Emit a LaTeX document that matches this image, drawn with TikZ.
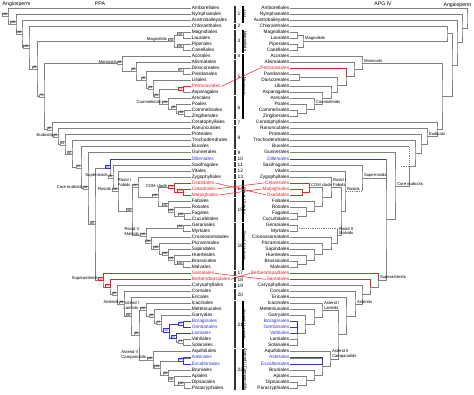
\documentclass[tikz,border=0pt]{standalone}
\usepackage{fontspec}
\setmainfont{Liberation Sans}
\usetikzlibrary{calc}
\pgfdeclarelayer{front}
\pgfsetlayers{main,front}

\definecolor{hired}{RGB}{232,32,40}
\definecolor{hiblue}{RGB}{52,52,214}
\colorlet{tk}{black}
\colorlet{tr}{hired}
\colorlet{tb}{hiblue}

\newcommand\tipfont{\fontsize{4.8}{4.8}\selectfont}
\newcommand\cladefont{\fontsize{4.2}{4.8}\selectfont}
\newcommand\bootfont{\fontsize{3.3}{3.3}\selectfont}

% node position: x given, y halfway between the two children
\newcommand\jpos[4]{\path let \p1=(#3),\p2=(#4) in (#2,{(\y1+\y2)/2}) coordinate (#1);}
% clade: [box style]{name}{x}{child 1}{child 2}{support}
\newcommand\clade[6][]{%
  \jpos{#2}{#3}{#4}{#5}%
  \draw[branch] (#4) -| (#2) |- (#5);%
  \ifx\relax#6\relax\else
    \begin{pgfonlayer}{front}\node[boot,#1] (#2b) at (#2) {#6};\end{pgfonlayer}%
  \fi}

\tikzset{
  branch/.style={draw=black!50, line width=0.45pt},
  dashbr/.style={draw=black!50, line width=0.45pt, dash pattern=on 1.2pt off 1pt},
  redb/.style={draw=hired, line width=0.5pt},
  blueb/.style={draw=hiblue, line width=0.5pt},
  crossr/.style={draw=hired, line width=0.5pt},
  boot/.style={draw=black!45, line width=0.25pt, fill=white, font=\bootfont,
    inner sep=0.35pt, anchor=south east, yshift=-0.4pt},
  redbox/.style={draw=hired, text=hired},
  bluebox/.style={draw=hiblue, text=hiblue},
  tipl/.style={anchor=west, inner sep=0.6pt, font=\tipfont, text height=3.4pt, text depth=0.9pt},
  tipr/.style={anchor=east, inner sep=0.6pt, font=\tipfont, text height=3.4pt, text depth=0.9pt},
  cll/.style={anchor=south east, align=left, inner sep=0.4pt, font=\cladefont},
  clr/.style={anchor=south west, align=left, inner sep=0.4pt, xshift=1.4pt, font=\cladefont},
  grpbar/.style={draw=black!80, line width=2pt},
  cladebar/.style={draw=black, line width=1.3pt},
  numlab/.style={anchor=west, inner sep=0.5pt, xshift=1.2pt, font=\tipfont},
  vlab/.style={anchor=south, rotate=-90, inner sep=0.5pt, yshift=-1.2pt, font=\fontsize{4.2}{4.2}\selectfont},
  ttl/.style={font=\fontsize{5.2}{5.2}\selectfont, inner sep=0.5pt}
}

\begin{document}
\begin{tikzpicture}[x=1pt, y=1pt]
\useasboundingbox (0,0) rectangle (474,-394);

% titles
\node[ttl] (ppa) at (100,-3.5) {PPA};
\node[ttl] (apg) at (383,-3.5) {APG IV};
\node[ttl, anchor=west] (angl) at (2,-4) {Angiosperm};
\node[ttl, anchor=east] (angr) at (472,-5) {Angiosperm};

% tips, left tree (PPA)
\foreach \t/\c [count=\i] in {Amborellales/tk, Nymphaeales/tk, Austrobaileyales/tk,
  Chloranthales/tk, Magnoliales/tk, Laurales/tk, Piperales/tk, Canellales/tk,
  Acorales/tk, Alismatales/tk, Dioscoreales/tk, Pandanales/tk, Liliales/tk,
  Petrosaviales/tr, Asparagales/tk, Arecales/tk, Poales/tk, Commelinales/tk,
  Zingiberales/tk, Ceratophyllales/tk, Ranunculales/tk, Proteales/tk,
  Trochodendrales/tk, Buxales/tk, Gunnerales/tk, Dilleniales/tb, Saxifragales/tk,
  Vitales/tk, Zygophyllales/tk, Oxalidales/tr, Celastrales/tr, Malpighiales/tr,
  Fabales/tk, Rosales/tk, Fagales/tk, Cucurbitales/tk, Geraniales/tk, Myrtales/tk,
  Crossosomatales/tk, Picramniales/tk, Sapindales/tk, Huerteales/tk,
  Brassicales/tk, Malvales/tk, Santalales/tr, Berberidopsidales/tr,
  Caryophyllales/tk, Cornales/tk, Ericales/tk, Icacinales/tk, Metteniusales/tk,
  Garryales/tk, Boraginales/tb, Gentianales/tb, Lamiales/tb, Vahliales/tk,
  Solanales/tk, Aquifoliales/tk, Asterales/tb, Escalloniales/tb, Bruniales/tk,
  Apiales/tk, Dipsacales/tk, Paracryphiales/tk}
  \node[tipl, text=\c] (l\i) at (191,{-8-6.03*(\i-1)}) {\t};

% tips, right tree (APG IV)
\foreach \t/\c [count=\i] in {Amborellales/tk, Nymphaeales/tk, Austrobaileyales/tk,
  Chloranthales/tk, Magnoliales/tk, Laurales/tk, Piperales/tk, Canellales/tk,
  Acorales/tk, Alismatales/tk, Petrosaviales/tr, Pandanales/tk, Dioscoreales/tk,
  Liliales/tk, Asparagales/tk, Arecales/tk, Poales/tk, Commelinales/tk,
  Zingiberales/tk, Ceratophyllales/tk, Ranunculales/tk, Proteales/tk,
  Trochodendrales/tk, Buxales/tk, Gunnerales/tk, Dilleniales/tb, Saxifragales/tk,
  Vitales/tk, Zygophyllales/tk, Celastrales/tr, Malpighiales/tr, Oxalidales/tr,
  Fabales/tk, Rosales/tk, Fagales/tk, Cucurbitales/tk, Geraniales/tk, Myrtales/tk,
  Crossosomatales/tk, Picramniales/tk, Sapindales/tk, Huerteales/tk,
  Brassicales/tk, Malvales/tk, Berberidopsidales/tr, Santalales/tr,
  Caryophyllales/tk, Cornales/tk, Ericales/tk, Icacinales/tk, Metteniusales/tk,
  Garryales/tk, Boraginales/tb, Gentianales/tb, Vahliales/tb, Lamiales/tk,
  Solanales/tk, Aquifoliales/tk, Asterales/tb, Escalloniales/tb, Bruniales/tk,
  Apiales/tk, Dipsacales/tk, Paracryphiales/tk}
  \node[tipr, text=\c] (r\i) at (290,{-8-6.03*(\i-1)}) {\t};

% left tree: magnoliids and monocots
\clade{LML}{183}{l5.west}{l6.west}{100}
\clade{LPC}{183}{l7.west}{l8.west}{100}
\clade{LMag}{174}{LML}{LPC}{100}
\clade{LDP}{183}{l11.west}{l12.west}{97}
\clade[redbox]{LPA}{183}{l14.west}{l15.west}{91}
\clade{LCZ}{184}{l18.west}{l19.west}{100}
\clade{LPC2}{176}{l17.west}{LCZ}{96}
\clade{LCom}{168}{l16.west}{LPC2}{100}
\clade{LM4}{159}{LPA}{LCom}{91}
\clade{LM3}{153}{l13.west}{LM4}{91}
\clade{LM2}{146}{LDP}{LM3}{95}
\clade{LM1}{136}{l10.west}{LM2}{95}
\clade{LM0}{122}{l9.west}{LM1}{96}
% left tree: rosids
\clade{LFC}{184}{l35.west}{l36.west}{100}
\clade{LRFC}{174}{l34.west}{LFC}{100}
\clade{LFRFC}{168}{l33.west}{LRFC}{100}
\clade[redbox]{LCM}{183}{l31.west}{l32.west}{100}
\clade[redbox]{LCOM}{174}{l30.west}{LCM}{100}
\clade{LFN}{158}{LCOM}{LFRFC}{100}
\clade{LFab}{138}{l29.west}{LFN}{100}
\clade{LGM}{183}{l37.west}{l38.west}{100}
\clade{LBM}{183}{l43.west}{l44.west}{100}
\clade{LHu}{174}{l42.west}{LBM}{100}
\clade{LSa}{168}{l41.west}{LHu}{100}
\clade{LPi}{159}{l40.west}{LSa}{100}
\clade{LCr}{151}{l39.west}{LPi}{100}
\clade{LMal}{146}{LGM}{LCr}{100}
\clade{LFM}{132}{LFab}{LMal}{100}
\clade{LRos}{118}{l28.west}{LFM}{100}
\clade{LSupr}{113}{l27.west}{LRos}{91}
\clade[bluebox]{LDS}{110}{l26.west}{LSupr}{91}
% left tree: asterids
\clade{LVS}{183}{l56.west}{l57.west}{73}
\clade[bluebox]{LLV}{176}{l55.west}{LVS}{93}
\clade[bluebox]{LBG}{183}{l53.west}{l54.west}{97}
\clade[bluebox]{LLc}{169}{LBG}{LLV}{100}
\clade{LGa}{161}{l52.west}{LLc}{97}
\clade{LMe}{154}{l51.west}{LGa}{92}
\clade{LLam}{146}{l50.west}{LMe}{100}
\clade{LDP2}{184}{l63.west}{l64.west}{100}
\clade{LAD}{174}{l62.west}{LDP2}{100}
\clade{LBA}{168}{l61.west}{LAD}{96}
\clade[bluebox]{LAE}{183}{l59.west}{l60.west}{90}
\clade{LAEB}{160}{LAE}{LBA}{100}
\clade{LCam}{153}{l58.west}{LAEB}{100}
\clade{LLC}{139}{LLam}{LCam}{96}
\clade{LEL}{131}{l49.west}{LLC}{96}
\clade{LAst}{124}{l48.west}{LEL}{99}
\clade{LCA}{117}{l47.west}{LAst}{95}
\clade[redbox]{LBn}{110}{l46.west}{LCA}{99}
\clade[redbox]{LSA}{103}{l45.west}{LBn}{99}
% left tree: backbone
\clade{LPen}{95}{LDS}{LSA}{95}
\clade{LCore}{88}{l25.west}{LPen}{99}
\clade{LEu3}{81}{l24.west}{LCore}{97}
\clade{LEu2}{72}{l23.west}{LEu3}{95}
\clade{LEu1}{65}{l22.west}{LEu2}{91}
\clade{LEu}{58}{l21.west}{LEu1}{95}
\clade{LG}{52}{l20.west}{LEu}{95}
\clade{LF}{44}{LM0}{LG}{73}
\clade{LE}{37}{LMag}{LF}{98}
\clade{LD}{29}{l4.west}{LE}{100}
\clade{LC}{22}{l3.west}{LD}{100}
\clade{LB}{16}{l2.west}{LC}{100}
\clade{LRoot}{8}{l1.west}{LB}{100}

% coloured branches, left
\draw[redb] (l14.west) -| (LPA);
\draw[redb] (l30.west) -| (LCOM) |- (LCM);
\draw[redb] (l31.west) -| (LCM) |- (l32.west);
\draw[redb] (l45.west) -| (LSA);
\draw[redb] (l46.west) -| (LBn);
\draw[blueb] (l26.west) -| (LDS);
\draw[blueb] (l53.west) -| (LBG) |- (l54.west);
\draw[blueb] (LBG) -| (LLc) |- (LLV);
\draw[blueb] (l55.west) -| (LLV);
\draw[blueb] (l59.west) -| (LAE) |- (l60.west);

% clade names, left
\node[cll] at (LMagb.south west) {Magnoliids};
\node[cll] at (LM0b.south west) {Monocots};
\node[cll] at (LComb.south west) {Commelinids};
\node[cll] at (LEub.south west) {Eudicots};
\node[cll] at (LCoreb.south west) {Core eudicots};
\node[cll] at (LSuprb.south west) {Superrosids};
\node[cll] at (LRosb.south west) {Rosids};
\node[cll] at (LFabb.south west) {Rosid I\\Fabids};
\node[cll] at (LCOMb.south west) {COM clade};
\node[cll] at (LMalb.south west) {Rosid II\\Malvids};
\node[cll] at (LSAb.south west) {Superasterids};
\node[cll] at (LAstb.south west) {Asterids};
\node[cll] at (LLamb.south west) {Asterid I\\Lamiids};
\node[cll] at (LCamb.south west) {Asterid II\\Campanulids};

% right tree: magnoliids and monocots
\clade{RML}{297}{r5.east}{r6.east}{}
\clade{RPC}{297}{r7.east}{r8.east}{}
\clade{RMag}{303}{RML}{RPC}{}
\clade{RDP}{299}{r12.east}{r13.east}{}
\clade{RCZ}{297}{r18.east}{r19.east}{}
\clade{RPCZ}{306}{r17.east}{RCZ}{}
\clade{RCom}{314}{r16.east}{RPCZ}{}
\clade{RAC}{322}{r15.east}{RCom}{}
\clade{RLAC}{331}{r14.east}{RAC}{}
\clade{RM3}{337}{RDP}{RLAC}{}
\clade{RM2}{346}{r11.east}{RM3}{}
\clade{RM1}{354}{r10.east}{RM2}{}
\clade{RM0}{362}{r9.east}{RM1}{}
\clade{RCM}{447}{r4.east}{RMag}{}
% right tree: rosids
\clade{RFC}{297}{r35.east}{r36.east}{}
\clade{RRFC}{306}{r34.east}{RFC}{}
\clade{RFRFC}{314}{r33.east}{RRFC}{}
\clade{RMO}{302}{r31.east}{r32.east}{}
\clade{RCOM}{309}{r30.east}{RMO}{}
\clade{RCF}{322}{RCOM}{RFRFC}{}
\clade{RFab}{331}{r29.east}{RCF}{}
\clade{RGM}{297}{r37.east}{r38.east}{}
\clade{RBM}{297}{r43.east}{r44.east}{}
\clade{RHu}{306}{r42.east}{RBM}{}
\clade{RSa}{314}{r41.east}{RHu}{}
\clade{RPi}{322}{r40.east}{RSa}{}
\clade{RCr}{331}{r39.east}{RPi}{}
\jpos{RMal}{337}{RGM}{RCr}
\draw[dashbr] (RGM) -- (RGM -| RMal);
\draw[branch] (RGM -| RMal) |- (RCr);
\clade{RFM}{341}{RFab}{RMal}{}
\clade{RRos}{345}{r28.east}{RFM}{}
\jpos{RSupr}{362}{r27.east}{RRos}
\draw[branch] (r27.east) -| (RSupr) -- (RSupr |- RRos);
\draw[dashbr] (RSupr |- RRos) -- (RRos);
% right tree: asterids
\clade{RPoly}{297}{r53.east}{r57.east}{}
\foreach \k in {54,55,56} \draw[branch] (r\k.east) -- (r\k.east -| RPoly);
\clade{RGP}{305}{r52.east}{RPoly}{}
\clade{RMGP}{314}{r51.east}{RGP}{}
\clade{RLam}{322}{r50.east}{RMGP}{}
\clade{RDP2}{297}{r63.east}{r64.east}{}
\clade{RADP}{306}{r62.east}{RDP2}{}
\clade{RBADP}{314}{r61.east}{RADP}{}
\clade{RAEB}{322}{r59.east}{RBADP}{}
\draw[branch] (r60.east) -- (r60.east -| RAEB);
\clade{RCam}{330}{r58.east}{RAEB}{}
\clade{RLC}{338}{RLam}{RCam}{}
\clade{RELC}{346}{r49.east}{RLC}{}
\clade{RAst}{355}{r48.east}{RELC}{}
\clade{RCA}{362}{r47.east}{RAst}{}
\clade{RSCA}{370}{r46.east}{RCA}{}
\clade{RSA}{378}{r45.east}{RSCA}{}
% right tree: backbone
\clade{RPen}{386}{r26.east}{RSA}{}
\draw[branch] (RSupr) -- (RSupr -| RPen);
\clade{RCore}{395}{r25.east}{RPen}{}
\jpos{REu3}{409}{r24.east}{RCore}
\draw[branch] (r24.east) -- (r24.east -| REu3);
\draw[dashbr] (r24.east -| REu3) -- (REu3) -- ++(-8,0);
\draw[branch] (REu3) |- (RCore);
\clade{REu2}{415}{r23.east}{REu3}{}
\clade{REu1}{421}{r22.east}{REu2}{}
\clade{REu}{427}{r21.east}{REu1}{}
\clade{RG}{437}{r20.east}{REu}{}
\clade{RMG}{442}{RM0}{RG}{}
\clade{RMes}{452}{RCM}{RMG}{}
\clade{RN2}{457}{r3.east}{RMes}{}
\clade{RN1}{462}{r2.east}{RN2}{}
\clade{RRoot}{467}{r1.east}{RN1}{}

% coloured branches, right
\draw[redb] (r11.east) -| (RM2);
\draw[redb] (r30.east) -| (RCOM) |- (RMO);
\draw[redb] (r31.east) -| (RMO) |- (r32.east);
\draw[redb] (r45.east) -| (RSA);
\draw[redb] (r46.east) -| (RSCA);
\draw[blueb] (r26.east) -- (r26.east -| RPen);
\draw[blueb] (r53.east) -| (RPoly |- r55.east) -- (r55.east);
\draw[blueb] (r54.east) -- (r54.east -| RPoly);
\draw[blueb] (r59.east) -| (RAEB |- r60.east) -- (r60.east);

% clade names, right
\node[clr] at (RMag) {Magnoliids};
\node[clr] at (RM0) {Monocots};
\node[clr] at (RCom) {Commelinids};
\node[clr] at (REu) {Eudicots};
\node[clr] at (RCore) {Core eudicots};
\node[clr] at (RSupr) {Superrosids};
\node[clr] at (RRos) {Rosids};
\node[clr] at (RFab) {Rosid I\\Fabids};
\node[clr] at (RCOM) {COM clade};
\node[clr] at (RMal) {Rosid II\\Malvids};
\node[clr] at (RSA) {Superasterids};
\node[clr] at (RAst) {Asterids};
\node[clr] at (RLam) {Asterid I\\Lamiids};
\node[clr] at (RCam) {Asterid II\\Campanulids};

% numbered groups
\foreach \n/\a/\b in {1/1/3, 2/4/4, 3/5/8, 4/9/9, 5/10/15, 6/16/19, 7/20/20,
  8/21/24, 9/25/25, 10/26/26, 11/27/27, 12/28/28, 13/29/29, 14/30/32,
  15/33/36, 16/37/44, 17/45/45, 18/46/46, 19/47/47, 20/48/49, 21/50/57, 22/58/64}
  \draw[grpbar] (235,{-8-6.03*(\a-1)+2.5}) -- (235,{-8-6.03*(\b-1)-2.5})
    node[numlab, midway] {\n};
% major clades
\foreach \t/\a/\b in {ANA/1/3, Magnoliids/5/8, Monocots/9/19, Rosid I Fabids/30/36,
  Rosid II Malvids/37/44, Asterid I Lamiids/50/57, Asterid II Campanulids/58/64}
  \draw[cladebar] (243,{-8-6.03*(\a-1)+2.5}) -- (243,{-8-6.03*(\b-1)-2.5})
    node[vlab, midway] {\t};

% moved orders
\draw[crossr] (l14.east) -- (r11.west);
\draw[crossr] (l30.east) -- (r32.west);
\draw[crossr] (l31.east) -- (r30.west);
\draw[crossr] (l32.east) -- (r31.west);
\draw[crossr] (l45.east) -- (r46.west);
\draw[crossr] (l46.east) -- (r45.west);
\end{tikzpicture}
\end{document}
